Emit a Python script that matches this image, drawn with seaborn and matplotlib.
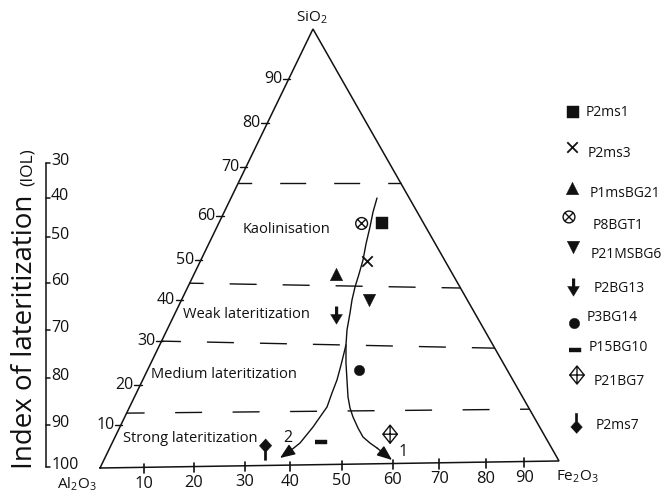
import matplotlib
matplotlib.use("Agg")
import matplotlib.pyplot as plt
from matplotlib.path import Path
import numpy as np
import pandas as pd
import seaborn as sns

# ---------------- data (diagram frame: x = 0..100 along the Al2O3 -> Fe2O3 base,
#                  y = 0..100 from the base up to the SiO2 apex)
corner_x = [0.0, 46.4, 100.0]          # Al2O3, SiO2, Fe2O3 corners
corner_y = [0.0, 100.0, 1.6]

base_tick_labels = ["10", "20", "30", "40", "50", "60", "70", "80", "90"]
base_tick_pos = [9.6, 20.5, 31.6, 41.4, 52.7, 63.8, 73.9, 84.1, 92.4]

sio2_tick_labels = ["90", "80", "70", "60", "50", "40", "30", "20", "10"]
sio2_tick_pos = [88.6, 78.6, 68.6, 57.4, 47.4, 38.3, 28.9, 18.9, 9.8]

iol_tick_labels = ["30", "40", "50", "60", "70", "80", "90", "100"]
iol_tick_pos = [69.5, 61.5, 52.6, 42.1, 31.4, 20.5, 9.8, 0.2]

zone_names = ["Kaolinisation", "Weak lateritization",
              "Medium lateritization", "Strong lateritization"]
zone_label_x = [40.6, 31.9, 26.9, 19.6]
zone_label_y = [54.4, 34.9, 21.2, 6.8]

boundary_y_left = [64.9, 42.1, 28.9, 12.5]
boundary_y_right = [64.9, 41.0, 27.3, 13.4]

samples = ["P2ms1", "P2ms3", "P1msBG21", "P8BGT1", "P21MSBG6",
           "P2BG13", "P3BG14", "P15BG10", "P21BG7", "P2ms7"]
sample_x = [61.4, 58.1, 51.4, 57.0, 58.5, 51.4, 56.4, 48.1, 63.2, 35.9]
sample_y = [55.8, 47.2, 44.2, 55.7, 38.3, 34.9, 22.3, 5.9, 7.7, 4.4]

legend_marker_x = [103.05, 102.83, 102.83, 102.18, 103.05, 103.05, 103.27, 103.49, 103.92, 103.70]
legend_marker_y = [81.09, 73.12, 63.78, 57.18, 50.34, 41.23, 33.03, 26.88, 21.18, 10.3]
legend_text_x = [105.88, 106.32, 106.75, 107.41, 106.97, 107.63, 106.10, 106.54, 107.63, 108.06]
legend_text_y = [81.09, 71.75, 62.64, 55.35, 48.52, 41.00, 34.17, 27.56, 19.59, 9.79]

# trend curves (1: towards Fe2O3, 2: towards Al2O3)
trend1_x = [60.35, 59.48, 58.82, 57.95, 57.30, 56.43, 55.56, 54.90, 54.47, 53.81, 53.59,
            53.59, 53.81, 54.03, 54.47, 55.12, 56.21, 57.30, 58.82, 60.35, 63.62]
trend1_y = [61.50, 58.31, 54.90, 51.03, 47.38, 44.19, 41.23, 38.27, 35.31, 31.44, 28.02,
            23.92, 20.05, 16.17, 13.67, 11.62, 9.11, 7.06, 5.69, 4.56, 1.82]
trend2_x = [53.59, 53.16, 52.51, 51.63, 50.54, 49.46, 47.93, 46.41, 43.57, 41.39, 39.22]
trend2_y = [28.02, 26.20, 23.46, 20.05, 17.08, 13.90, 11.62, 9.34, 5.69, 3.87, 2.28]
trend_labels = ["1", "2"]
trend_label_x = [66.0, 41.0]
trend_label_y = [3.6, 6.8]

# ---------------- style
sns.set_theme(style="white")
plt.rcParams["font.family"] = ["Open Sans", "DejaVu Sans"]
plt.rcParams["mathtext.fontset"] = "custom"
plt.rcParams["mathtext.rm"] = "Open Sans"
plt.rcParams["mathtext.it"] = "Open Sans"
plt.rcParams["mathtext.default"] = "regular"
K = "#111111"
PX = 1 / 1.389  # pixel -> point

fig = plt.figure(figsize=(6.68, 4.98), dpi=100)
ax = fig.add_axes([100 / 668, 30 / 498, 459 / 668, 439 / 498])
ax.set_xlim(0, 100)
ax.set_ylim(0, 100)
ax.axis("off")

# triangle
ax.plot(corner_x + [corner_x[0]], corner_y + [corner_y[0]], color=K, lw=1.1,
        solid_joinstyle="miter", clip_on=False)


def left_edge_x(y):
    return corner_x[1] * y / 100.0


def right_edge_x(y):
    return corner_x[2] + (y - corner_y[2]) * (corner_x[1] - corner_x[2]) / (corner_y[1] - corner_y[2])


def base_y(x):
    return corner_y[2] * x / 100.0


# base ticks
for lab, p in zip(base_tick_labels, base_tick_pos):
    by = base_y(p)
    ax.plot([p, p], [by - 1.3, by + 0.8], color=K, lw=1.2, clip_on=False)
    ax.text(p, by - 3.8, lab, ha="center", va="center", fontsize=11.8, color=K)

# SiO2 ticks on left edge
for lab, p in zip(sio2_tick_labels, sio2_tick_pos):
    ex = left_edge_x(p)
    ax.plot([ex - 1.3, ex + 0.3], [p, p], color=K, lw=1.0, clip_on=False)
    ax.text(ex - 1.4, p, lab, ha="right", va="center", fontsize=11.5, color=K)

# corner labels
ax.text(46.2, 102.6, "SiO$_2$", ha="center", va="center", fontsize=11, color=K)
ax.text(-5.0, -3.6, "Al$_2$O$_3$", ha="center", va="center", fontsize=11, color=K)
ax.text(104.0, -2.0, "Fe$_2$O$_3$", ha="center", va="center", fontsize=11, color=K)

# dashed zone boundaries (offset, on, off) in pixels
dash_specs = [(12.3, 26, 28), (13, 27, 26), (7.6, 27, 26), (9, 27, 30.5)]
for yl, yr, (off, on, gap) in zip(boundary_y_left, boundary_y_right, dash_specs):
    xl = left_edge_x(yl)
    xr = right_edge_x(yr)
    ax.plot([xl, xr], [yl, yr], color=K, lw=1.0,
            linestyle=(off * PX, (on * PX, gap * PX)), clip_on=False)

for name, x, y in zip(zone_names, zone_label_x, zone_label_y):
    ax.text(x, y, name, ha="center", va="center", fontsize=10.5, color=K)

# trend curves with arrow heads
for tx, ty in [(trend1_x, trend1_y), (trend2_x, trend2_y)]:
    ax.plot(tx[:-1], ty[:-1], color=K, lw=1.0)
    ax.annotate("", xy=(tx[-1], ty[-1]), xytext=(tx[-2], ty[-2]),
                arrowprops=dict(arrowstyle="-|>,head_length=0.65,head_width=0.26",
                                color=K, lw=1.0, mutation_scale=14,
                                shrinkA=0, shrinkB=0))
for lab, x, y in zip(trend_labels, trend_label_x, trend_label_y):
    ax.text(x, y, lab, ha="center", va="center", fontsize=11.5, color=K)

# ---------------- custom markers
otimes = Path.make_compound_path(
    Path.unit_circle(),
    Path([(-0.7, -0.7), (0.7, 0.7)], [Path.MOVETO, Path.LINETO]),
    Path([(-0.7, 0.7), (0.7, -0.7)], [Path.MOVETO, Path.LINETO]))
arrow_down = [(-0.17, 1.0), (0.17, 1.0), (0.17, 0.12), (0.68, 0.12), (0.0, -1.0),
              (-0.68, 0.12), (-0.17, 0.12)]
dash_mark = [(-1.0, -0.38), (1.0, -0.38), (1.0, 0.38), (-1.0, 0.38)]
diamond_cross = Path([(0, 1), (0.8, 0), (0, -1), (-0.8, 0), (0, 1),
                      (0, 1), (0, -1), (-0.8, 0), (0.8, 0)],
                     [Path.MOVETO, Path.LINETO, Path.LINETO, Path.LINETO, Path.CLOSEPOLY,
                      Path.MOVETO, Path.LINETO, Path.MOVETO, Path.LINETO])
pin_down = [(0, 1.0), (0.58, 0.36), (0.12, -0.15), (0.12, -1.0), (-0.12, -1.0),
            (-0.12, -0.15), (-0.58, 0.36)]
pin_up = [(x, -y) for x, y in pin_down]

# marker, size (pt), filled
marker_specs = {
    "P2ms1": ("s", 8.0, True),
    "P2ms3": ("x", 7.5, False),
    "P1msBG21": ("^", 9.0, True),
    "P8BGT1": (otimes, 8.5, "open"),
    "P21MSBG6": ("v", 9.0, True),
    "P2BG13": (arrow_down, 12.5, True),
    "P3BG14": ("o", 7.5, True),
    "P15BG10": (dash_mark, 8.0, True),
    "P21BG7": (diamond_cross, 13.0, "open"),
    "P2ms7": (pin_down, 15.5, True),
}


def draw_marker(name, x, y, legend=False):
    m, size, filled = marker_specs[name]
    if legend and name == "P2ms7":
        m, size = pin_up, 14.5
    if filled == "open":
        sns.scatterplot(x=[x], y=[y], ax=ax, marker=m, s=size ** 2, color=K,
                        facecolor="none", edgecolor=K, linewidth=1.0,
                        clip_on=False, zorder=5, legend=False)
    elif filled:
        sns.scatterplot(x=[x], y=[y], ax=ax, marker=m, s=size ** 2, color=K,
                        edgecolor=K, linewidth=0.3, clip_on=False, zorder=5,
                        legend=False)
    else:
        sns.scatterplot(x=[x], y=[y], ax=ax, marker=m, s=size ** 2, color=K,
                        linewidth=1.3, clip_on=False, zorder=5, legend=False)


for name, x, y in zip(samples, sample_x, sample_y):
    draw_marker(name, x, y)

# legend
for name, mx, my, tx, ty in zip(samples, legend_marker_x, legend_marker_y,
                                legend_text_x, legend_text_y):
    draw_marker(name, mx, my, legend=True)
    ax.text(tx, ty, name, ha="left", va="center", fontsize=10, color=K)

# ---------------- Index of lateritization scale
iol_x = -11.76
ax.plot([iol_x, iol_x], [iol_tick_pos[0], iol_tick_pos[-1]], color=K, lw=1.1,
        clip_on=False)
for lab, p in zip(iol_tick_labels, iol_tick_pos):
    ax.plot([iol_x, iol_x + 0.9], [p, p], color=K, lw=1.1, clip_on=False)
    ax.text(iol_x + 1.1, p + 0.4, lab, ha="left", va="center", fontsize=11.5, color=K)

ax.text(-14.8, 31.0, "Index of lateritization", rotation=90, rotation_mode="anchor",
        ha="center", va="baseline", fontsize=20, color=K)
ax.text(-14.8, 68.6, "(IOL)", rotation=90, rotation_mode="anchor",
        ha="center", va="baseline", fontsize=12.5, color=K)

ax.set_xlim(0, 100)
ax.set_ylim(0, 100)
fig.savefig("out.png", dpi=100, facecolor="white")
